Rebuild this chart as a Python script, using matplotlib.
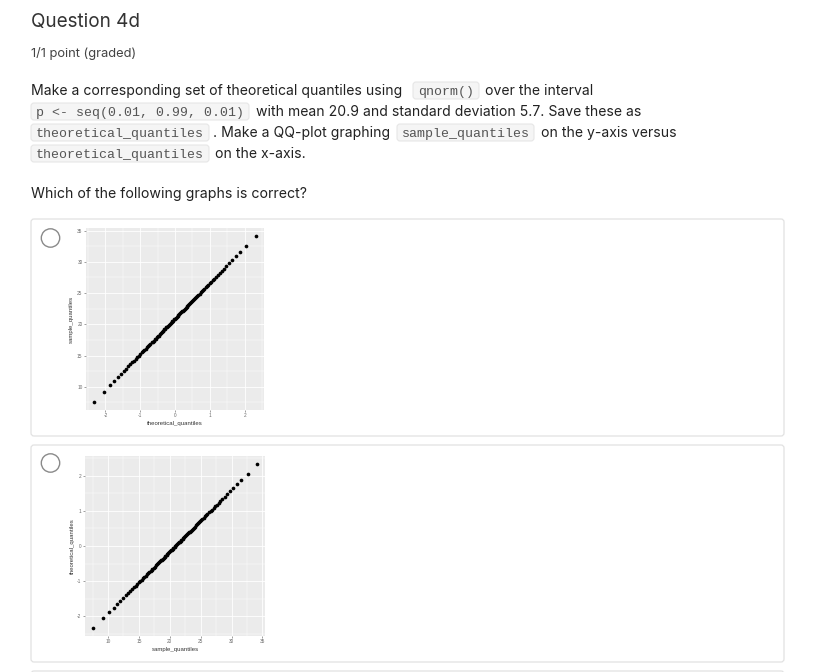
import matplotlib
matplotlib.use("Agg")
import matplotlib.pyplot as plt
from matplotlib.patches import FancyBboxPatch, Circle
from matplotlib.ticker import MultipleLocator

# qnorm(seq(0.01, 0.99, 0.01))
theoretical_quantiles = [-2.326, -2.054, -1.881, -1.751, -1.645, -1.555, -1.476, -1.405, -1.341, -1.282,
                         -1.227, -1.175, -1.126, -1.080, -1.036, -0.994, -0.954, -0.915, -0.878, -0.842,
                         -0.806, -0.772, -0.739, -0.706, -0.674, -0.643, -0.613, -0.583, -0.553, -0.524,
                         -0.496, -0.468, -0.440, -0.412, -0.385, -0.358, -0.332, -0.305, -0.279, -0.253,
                         -0.228, -0.202, -0.176, -0.151, -0.126, -0.100, -0.075, -0.050, -0.025, 0.000,
                         0.025, 0.050, 0.075, 0.100, 0.126, 0.151, 0.176, 0.202, 0.228, 0.253,
                         0.279, 0.305, 0.332, 0.358, 0.385, 0.412, 0.440, 0.468, 0.496, 0.524,
                         0.553, 0.583, 0.613, 0.643, 0.674, 0.706, 0.739, 0.772, 0.806, 0.842,
                         0.878, 0.915, 0.954, 0.994, 1.036, 1.080, 1.126, 1.175, 1.227, 1.282,
                         1.341, 1.405, 1.476, 1.555, 1.645, 1.751, 1.881, 2.054, 2.326]

# sample quantiles
sample_quantiles = [7.6, 9.2, 10.2, 10.9, 11.5, 12.0, 12.5, 12.9, 13.3, 13.6,
                    13.9, 14.2, 14.5, 14.7, 15.0, 15.2, 15.5, 15.7, 15.9, 16.1,
                    16.3, 16.5, 16.7, 16.9, 17.1, 17.2, 17.4, 17.6, 17.7, 17.9,
                    18.1, 18.2, 18.4, 18.6, 18.7, 18.9, 19.0, 19.2, 19.3, 19.5,
                    19.6, 19.7, 19.9, 20.0, 20.2, 20.3, 20.5, 20.6, 20.8, 20.9,
                    21.0, 21.2, 21.3, 21.5, 21.6, 21.8, 21.9, 22.1, 22.2, 22.3,
                    22.5, 22.6, 22.8, 22.9, 23.1, 23.2, 23.4, 23.6, 23.7, 23.9,
                    24.1, 24.2, 24.4, 24.6, 24.7, 24.9, 25.1, 25.3, 25.5, 25.7,
                    25.9, 26.1, 26.3, 26.6, 26.8, 27.1, 27.3, 27.6, 27.9, 28.2,
                    28.5, 28.9, 29.3, 29.8, 30.3, 30.9, 31.6, 32.6, 34.1]

theo_ticks = [-2, -1, 0, 1, 2]
sample_ticks = [10, 15, 20, 25, 30, 35]

plt.rcParams['axes.unicode_minus'] = False

W, H = 823, 672
fig = plt.figure(figsize=(W / 100, H / 100), dpi=100)

# page layer in pixel coordinates (origin top-left)
page = fig.add_axes([0, 0, 1, 1])
page.set_xlim(0, W)
page.set_ylim(H, 0)
page.axis('off')

SANS = ['Inter', 'DejaVu Sans']
MONO = ['Liberation Mono', 'DejaVu Sans Mono']
TXT = '#222222'

page.text(31, 27, 'Question 4d', fontsize=13.6, family=SANS, color='#333333', va='baseline')
page.text(31, 57, '1/1 point (graded)', fontsize=9.3, family=SANS, color='#444444', va='baseline')


def code(x0, x1, base, s):
    page.add_patch(FancyBboxPatch((x0, base - 13), x1 - x0, 17,
                                  boxstyle='round,pad=0,rounding_size=3',
                                  fc='#f5f5f5', ec='#e6e6e6', lw=0.8))
    page.text(x0 + 5, base, s, fontsize=9.5, family=MONO, color='#555555', va='baseline')


def para(x, base, s):
    page.text(x, base, s, fontsize=10.1, family=SANS, color=TXT, va='baseline')


para(31, 95, 'Make a corresponding set of theoretical quantiles using')
code(413, 479, 95, 'qnorm()')
para(485, 95, 'over the interval')
code(31, 249, 116, 'p <- seq(0.01, 0.99, 0.01)')
para(256, 116, 'with mean 20.9 and standard deviation 5.7. Save these as')
code(31, 209, 137, 'theoretical_quantiles')
para(213, 137, '. Make a QQ-plot graphing')
code(397, 534, 137, 'sample_quantiles')
para(541, 137, 'on the y-axis versus')
code(31, 209, 158, 'theoretical_quantiles')
para(215, 158, 'on the x-axis.')

page.text(31, 198, 'Which of the following graphs is correct?', fontsize=10.2, family=SANS,
          color=TXT, va='baseline')

# answer cards
for top, bottom in [(219, 436), (445, 662), (671, 700)]:
    page.add_patch(FancyBboxPatch((31, top), 753, bottom - top,
                                  boxstyle='round,pad=0,rounding_size=3',
                                  fc='white', ec='#e2e2e2', lw=0.9))
for cy in [238, 463]:
    page.add_patch(Circle((50.5, cy), 9.2, fc='white', ec='#8a8a8a', lw=1.0))


def qq_panel(rect, x, y, xticks, yticks, xlabel, ylabel):
    x0, y0, x1, y1 = rect
    ax = fig.add_axes([x0 / W, (H - y1) / H, (x1 - x0) / W, (y1 - y0) / H])
    ax.set_facecolor('#ebebeb')
    for s in ax.spines.values():
        s.set_visible(False)
    ax.scatter(x, y, s=7, c='black', linewidths=0, zorder=3)
    ax.set_xticks(xticks)
    ax.set_yticks(yticks)
    ax.xaxis.set_minor_locator(MultipleLocator((xticks[1] - xticks[0]) / 2))
    ax.yaxis.set_minor_locator(MultipleLocator((yticks[1] - yticks[0]) / 2))
    ax.grid(which='major', color='white', lw=0.6)
    ax.grid(which='minor', color='white', lw=0.3)
    ax.set_axisbelow(True)
    ax.tick_params(which='major', length=1.3, width=0.4, color='#555555', pad=1.2,
                   labelsize=3.4, labelcolor='#6a6a6a')
    ax.tick_params(which='minor', length=0)
    for lab in ax.get_xticklabels() + ax.get_yticklabels():
        lab.set_family('Liberation Sans')
    ax.set_xlabel(xlabel, fontsize=4.3, family='Liberation Sans', color='#333333', labelpad=1.5)
    ax.set_ylabel(ylabel, fontsize=4.3, family='Liberation Sans', color='#333333', labelpad=2)
    ax.margins(0.05)
    return ax


qq_panel((86, 228, 264, 410), theoretical_quantiles, sample_quantiles,
         theo_ticks, sample_ticks, 'theoretical_quantiles', 'sample_quantiles')
qq_panel((85, 456, 265, 636), sample_quantiles, theoretical_quantiles,
         sample_ticks, theo_ticks, 'sample_quantiles', 'theoretical_quantiles')

fig.savefig('out.png', dpi=100, facecolor='white')
